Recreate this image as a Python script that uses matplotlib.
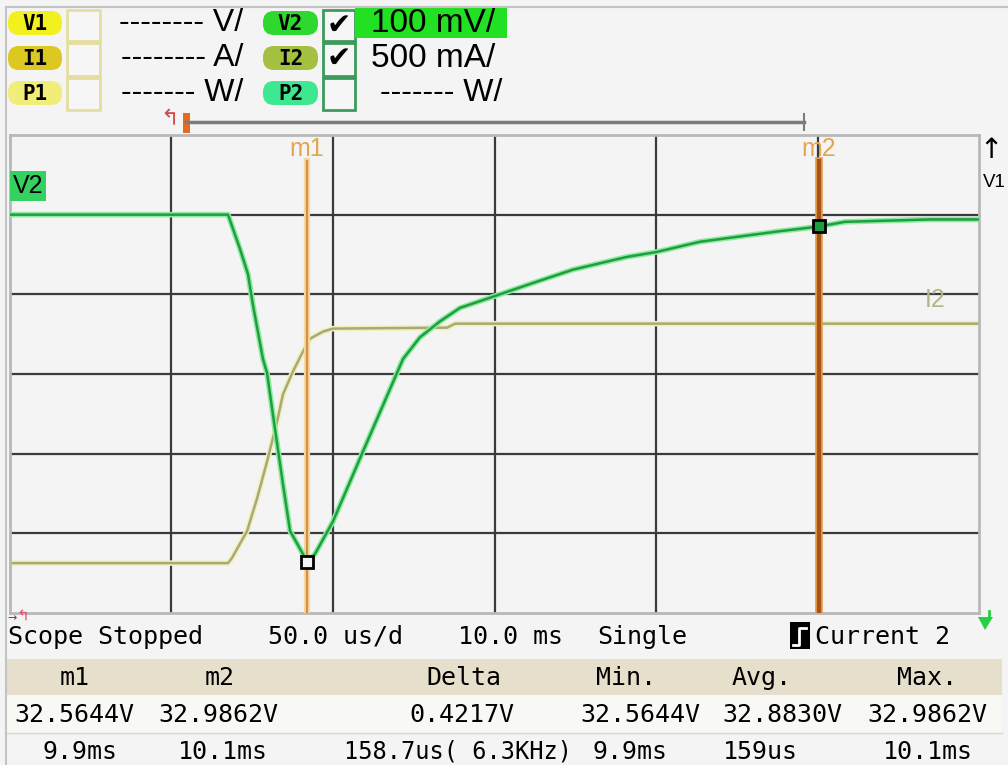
import matplotlib
matplotlib.use("Agg")
import matplotlib.pyplot as plt
import matplotlib.patches as patches

# === DATA (time in us relative to the 10.0 ms delay) ===
v2_time = [-150.0, -82.5, -78.8, -76.3, -74.8, -71.7, -70.4, -68.6, -65.5, -63.3,
           -59.3, -58.0, -55.6, -50.0, -40.7, -28.3, -23.1, -16.9, -10.7, -0.5,
           11.0, 24.3, 41.0, 50.0, 63.6, 87.8, 100.2, 108.5, 134.8, 150.0]
v2_volts = [33.000, 33.000, 32.957, 32.925, 32.887, 32.819, 32.801, 32.749, 32.662, 32.603,
            32.574, 32.564, 32.574, 32.615, 32.703, 32.819, 32.846, 32.866, 32.883, 32.897,
            32.913, 32.931, 32.947, 32.953, 32.966, 32.979, 32.985, 32.991, 32.994, 32.994]

i2_time = [-150.0, -82.5, -81.3, -76.6, -73.5, -70.4, -67.3, -65.5, -62.4, -59.3,
           -57.1, -53.1, -50.0, -14.7, -12.2, 150.0]
i2_amps = [0.313, 0.313, 0.345, 0.514, 0.720, 0.952, 1.203, 1.372, 1.516, 1.641,
           1.722, 1.766, 1.785, 1.791, 1.816, 1.816]

markers = ["m1", "m2"]
marker_time = [-58.2, 100.5]
marker_volts = [32.5644, 32.9862]

table_head = ["m1", "m2", "Delta", "Min.", "Avg.", "Max."]
table_vals = ["32.5644V", "32.9862V", "0.4217V", "32.5644V", "32.8830V", "32.9862V"]
table_times = ["9.9ms", "10.1ms", "158.7us( 6.3KHz)", "9.9ms", "159us", "10.1ms"]

# === STYLE ===
BG = "#f4f4f4"
GRID = "#3a3a3a"
FONT = "Liberation Sans"
MONO = "DejaVu Sans Mono"
W, H = 1008, 765
L, T, R, B = 10, 135, 979, 613

fig = plt.figure(figsize=(10.08, 7.65), dpi=100)
fig.patch.set_facecolor(BG)

# screen overlay in pixel coordinates (header, status bar, table), drawn on top
scr = fig.add_axes([0, 0, 1, 1])
scr.set_xlim(0, W)
scr.set_ylim(H, 0)
scr.axis('off')
scr.set_zorder(5)

# outer frame
scr.plot([6, W], [7, 7], color='#c4c4c4', lw=1.5)
scr.plot([6, 6], [7, H], color='#c4c4c4', lw=1.5)


def badge(x0, y0, w, h, fc, label):
    p = patches.FancyBboxPatch((x0, y0), w, h, boxstyle="round,pad=0,rounding_size=11",
                               fc=fc, ec='none')
    scr.add_patch(p)
    scr.text(x0 + w / 2, y0 + h / 2 + 1, label, ha='center', va='center', fontsize=15,
             fontweight='bold', family=MONO, color='black')


badge(8, 11, 54, 24, '#f2f01e', "V1")
badge(8, 46, 54, 24, '#dcc820', "I1")
badge(8, 81, 54, 24, '#f0ee78', "P1")
badge(263, 11, 55, 24, '#2ed82e', "V2")
badge(263, 46, 55, 24, '#a4c040', "I2")
badge(263, 81, 55, 24, '#3ee890', "P2")

# checkboxes
for y0, y1 in [(10, 41), (43, 76), (78, 110)]:
    scr.add_patch(patches.Rectangle((67, y0), 33, y1 - y0, fc='#f6f6f6', ec='#e6dea0', lw=2))
    scr.add_patch(patches.Rectangle((323, y0), 32, y1 - y0, fc='#f6f6f6', ec='#3c9a5c', lw=2))
scr.text(339, 26, "\u2714", ha='center', va='center', fontsize=21, color='black')
scr.text(339, 59, "\u2714", ha='center', va='center', fontsize=21, color='black')

# channel scales
scr.add_patch(patches.Rectangle((355, 8), 152, 30, fc='#22e022', ec='none'))
scr.text(243, 23, "-------- V/", ha='right', va='center', fontsize=23, family=FONT)
scr.text(243, 58, "-------- A/", ha='right', va='center', fontsize=23, family=FONT)
scr.text(243, 93, "------- W/", ha='right', va='center', fontsize=23, family=FONT)
scr.text(371, 23, "100 mV/", ha='left', va='center', fontsize=24, family=FONT)
scr.text(371, 58, "500 mA/", ha='left', va='center', fontsize=24, family=FONT)
scr.text(502, 93, "------- W/", ha='right', va='center', fontsize=23, family=FONT)

# time bar above the screen
scr.plot([186, 804], [122, 122], color='#7c7c7c', lw=2.5)
scr.plot([804, 804], [114, 130], color='#7c7c7c', lw=1.5)
scr.add_patch(patches.Rectangle((183, 113), 7, 20, fc='#e86a20', ec='none'))
scr.text(170, 119, "\u21b0", ha='center', va='center', fontsize=16, color='#d24a4a')

# V1 arrow at the right edge
scr.text(991, 150, "\u2191", ha='center', va='center', fontsize=20, color='black')
scr.text(983, 182, "V1", ha='left', va='center', fontsize=13.5, family=FONT)

# bottom-left and bottom-right arrows
scr.text(23, 616, "\u21b0", ha='center', va='center', fontsize=11, color='#e0506a')
scr.text(12, 618, "\u2192", ha='center', va='center', fontsize=8, color='#a02838')
scr.add_patch(patches.Polygon([[978, 617], [993, 617], [985, 630]], closed=True,
                              fc='#28d040', ec='none'))
scr.plot([989, 989], [611, 618], color='#28d040', lw=2)

# status line
status_y = 637
scr.text(8, status_y, "Scope Stopped", ha='left', va='center', fontsize=18, family=MONO)
scr.text(268, status_y, "50.0 us/d", ha='left', va='center', fontsize=18, family=MONO)
scr.text(458, status_y, "10.0 ms", ha='left', va='center', fontsize=18, family=MONO)
scr.text(597, status_y, "Single", ha='left', va='center', fontsize=18, family=MONO)
scr.add_patch(patches.Rectangle((790, 622), 20, 27, fc='black', ec='none'))
scr.plot([793, 799, 799, 806], [645, 645, 628, 628], color='white', lw=2)
scr.text(815, status_y, "Current 2", ha='left', va='center', fontsize=18, family=MONO)

# measurement table
scr.add_patch(patches.Rectangle((7, 659), 995, 36, fc='#e6dfcb', ec='none'))
scr.add_patch(patches.Rectangle((7, 695), 995, 38, fc='#f8f8f5', ec='none'))
scr.plot([7, 1002], [733, 733], color='#d8d8d0', lw=1)
head_x = [75, 220, 464, 626, 762, 927]
vals_x = [74, 218, 462, 640, 782, 927]
times_x = [80, 223, 458, 630, 760, 928]
times_fs = [18, 18, 17, 18, 18, 18]
for hx, s in zip(head_x, table_head):
    scr.text(hx, 678, s, ha='center', va='center', fontsize=18, family=MONO)
for vx, s in zip(vals_x, table_vals):
    scr.text(vx, 715, s, ha='center', va='center', fontsize=18, family=MONO)
for tx, s, fs in zip(times_x, table_times, times_fs):
    scr.text(tx, 752, s, ha='center', va='center', fontsize=fs, family=MONO)

# === SCOPE SCREEN ===
box = [L / W, 1 - B / H, (R - L) / W, (B - T) / H]
ax_i = fig.add_axes(box)
ax_i.set_facecolor(BG)
ax_i.set_xlim(-150, 150)
ax_i.set_ylim(0, 3.0)
ax_i.set_xticks([-100, -50, 0, 50, 100])
ax_i.set_yticks([0.5, 1.0, 1.5, 2.0, 2.5])
ax_i.tick_params(length=0, labelbottom=False, labelleft=False)
ax_i.grid(True, color=GRID, lw=1.6)
for s in ax_i.spines.values():
    s.set_color('#b8b8b8')
    s.set_linewidth(2)

ax_i.plot(i2_time, i2_amps, color='#f2f0b8', lw=4, solid_capstyle='butt')
ax_i.plot(i2_time, i2_amps, color='#a9a878', lw=1.8)
ax_i.text(0.955, 0.655, "I2", transform=ax_i.transAxes, ha='center', va='center',
          fontsize=18, family=FONT, color='#b4b488')

ax_v = fig.add_axes(box)
ax_v.patch.set_visible(False)
ax_v.set_xlim(-150, 150)
ax_v.set_ylim(32.5, 33.1)
ax_v.set_xticks([])
ax_v.set_yticks([])
for s in ax_v.spines.values():
    s.set_visible(False)

# marker cursors
ax_v.axvline(marker_time[0], ymax=0.945, color='#f8d6a0', lw=4.5)
ax_v.axvline(marker_time[0], ymax=0.945, color='#cf9048', lw=1.6)
ax_v.axvline(marker_time[1], ymax=0.945, color='#e89a48', lw=5.5)
ax_v.axvline(marker_time[1], ymax=0.945, color='#a4561a', lw=3)
for mt, name in zip(marker_time, markers):
    ax_v.text(mt, 0.970, name, transform=ax_v.get_xaxis_transform(), ha='center', va='center',
              fontsize=18, family=FONT, color='#e0a650')

ax_v.plot(v2_time, v2_volts, color='#8eeaa2', lw=4)
ax_v.plot(v2_time, v2_volts, color='#1f9e40', lw=1.8)

ax_v.plot(marker_time[0], marker_volts[0], marker='s', ms=9, mfc='#f4f4f4', mec='black', mew=2)
ax_v.plot(marker_time[1], marker_volts[1], marker='s', ms=9, mfc='#1f9e40', mec='black', mew=2)

# V2 trace label
ax_v.text(0.003, 0.893, "V2", transform=ax_v.transAxes, ha='left', va='center', fontsize=18,
          family=FONT, color='black',
          bbox=dict(boxstyle='square,pad=0.12', fc='#34d060', ec='none'))

plt.savefig("out.png", dpi=100, facecolor=BG)
plt.close()
